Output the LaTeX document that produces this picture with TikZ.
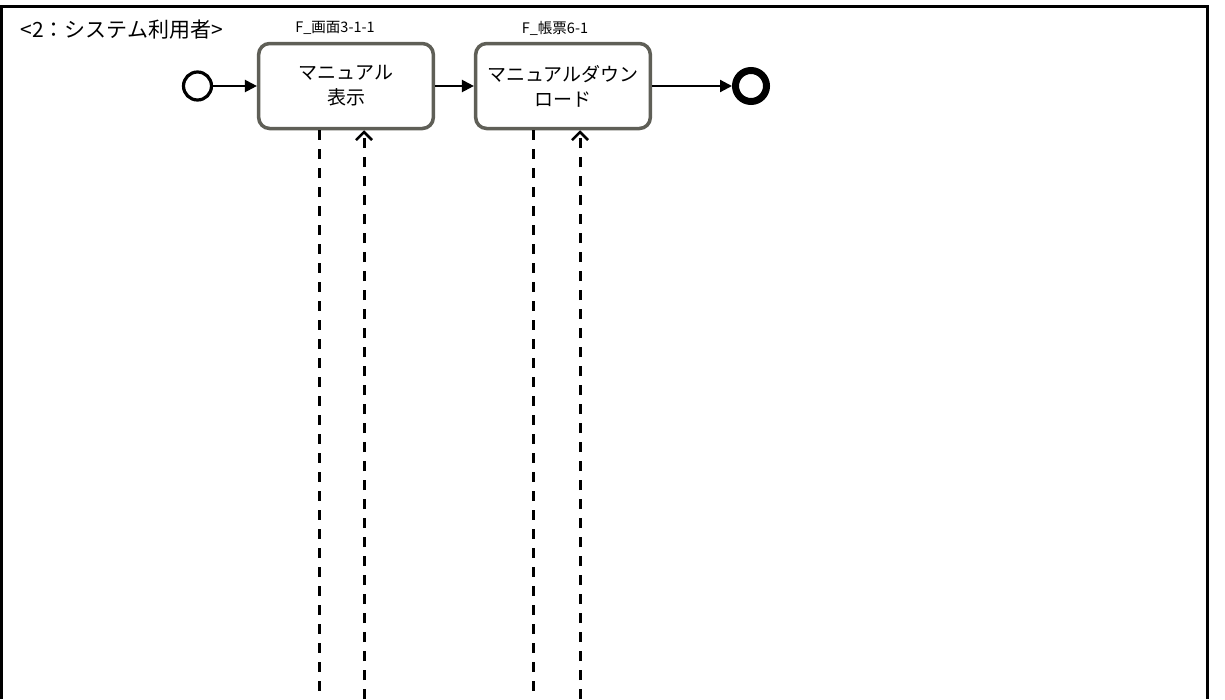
\documentclass[tikz,border=0pt]{standalone}
\usepackage{fontspec}
\setmainfont{Noto Sans CJK JP}
\usepackage{tikz}
\usetikzlibrary{arrows.meta, positioning}
\definecolor{boxgray}{HTML}{5F5F57}

\begin{document}
\begin{tikzpicture}[x=1pt, y=-1pt,
  task/.style={rectangle, rounded corners=11pt,
    minimum width=172pt, minimum height=85pt,
    text width=168pt, align=center,
    draw=boxgray, line width=3.5pt, fill=white, font=\fontsize{19}{25}\selectfont},
  tag/.style={font=\fontsize{14.5}{16}\selectfont},
  startev/.style={circle, draw, line width=3.2pt, minimum size=28pt, inner sep=0pt},
  endev/.style={circle, draw, line width=7pt, minimum size=31pt, inner sep=0pt},
  flow/.style={-{Triangle[length=12pt, width=12pt]}, line width=2.2pt},
  msg/.style={line width=3pt, dash pattern=on 10pt off 9pt},
  msgin/.style={msg, -{Straight Barb[length=8pt, width=16pt, line width=2.5pt]}}
]
  \useasboundingbox (0,0) rectangle (1225,699);
  \draw[line width=3pt] (1.5,699) -- (1.5,6.5) -- (1207,6.5) -- (1207,699);

  \node[anchor=west, font=\fontsize{21}{24}\selectfont] (lane) at (17,30) {<2：システム利用者>};

  \node[startev] (start) at (197.5,86) {};
  \node[task] (t1) at (346,86) {マニュアル\\表示};
  \node[task] (t2) at (563,86) {マニュアルダウン\\ロード};
  \node[endev] (stop) at (751,86) {};

  \node[tag] (f1) at (335,28) {F\_画面3-1-1};
  \node[tag] (f2) at (555,28) {F\_帳票6-1};

  \draw[flow] (start) -- (t1);
  \draw[flow] (t1) -- (t2);
  \draw[flow] (t2) -- (stop);

  % message lines to the lane below
  \coordinate (b1) at (319,699);
  \coordinate (b2) at (364,699);
  \coordinate (b3) at (533,699);
  \coordinate (b4) at (580,699);
  \draw[msg] (t1.south -| b1) -- (b1);
  \draw[msgin] (b2) -- (t1.south -| b2);
  \draw[msg] (t2.south -| b3) -- (b3);
  \draw[msgin] (b4) -- (t2.south -| b4);
\end{tikzpicture}
\end{document}
